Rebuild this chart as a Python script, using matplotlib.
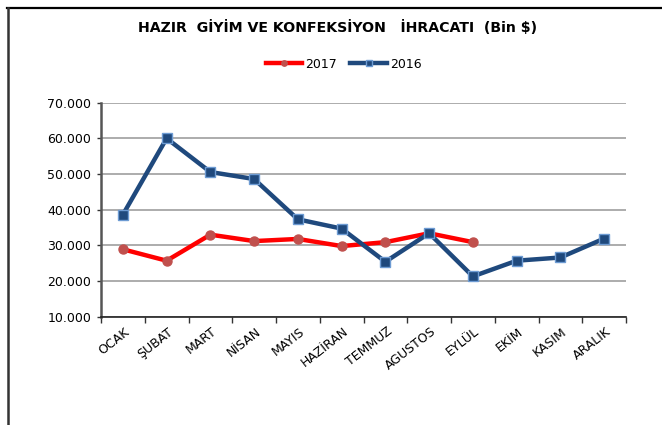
import matplotlib
matplotlib.use("Agg")
import matplotlib.pyplot as plt
from matplotlib.lines import Line2D
from matplotlib.ticker import FuncFormatter, FixedLocator
from matplotlib.transforms import ScaledTranslation

plt.rcParams['font.family'] = ['DejaVu Sans']

months = ["OCAK", "ŞUBAT", "MART", "NİSAN", "MAYIS", "HAZİRAN", "TEMMUZ",
          "AGUSTOS", "EYLÜL", "EKİM", "KASIM", "ARALIK"]
values_2017 = [28900, 25700, 33000, 31200, 31800, 29800, 30900, 33400, 30900]
values_2016 = [38600, 60000, 50560, 48600, 37300, 34700, 25400, 33400, 21300,
               25700, 26600, 31900]
title = "HAZIR  GİYİM VE KONFEKSİYON   İHRACATI  (Bin $)"

W, H = 662, 425
fig = plt.figure(figsize=(W / 100, H / 100), dpi=100)
fig.patch.set_facecolor("white")

# outer frame (top and left only visible)
fig.add_artist(Line2D([7 / W, 1.0], [1 - 7.5 / H, 1 - 7.5 / H], color="black", lw=1.6,
                      transform=fig.transFigure))
fig.add_artist(Line2D([7.5 / W, 7.5 / W], [0, 1 - 7.5 / H], color="#333333", lw=1.8,
                      transform=fig.transFigure))

ax = fig.add_axes([101 / W, 1 - 316.7 / H, (626 - 101) / W, (316.7 - 102.7) / H])

x16 = [i + 0.5 for i in range(len(values_2016))]
x17 = [i + 0.5 for i in range(len(values_2017))]

ax.plot(x17, values_2017, color="#FF0000", lw=3.2, marker="o", ms=6.5,
        mfc="#C0504D", mec="#C0504D", solid_joinstyle="round", label="2017", zorder=3)
ax.plot(x16, values_2016, color="#1F497D", lw=3.2, marker="s", ms=6.5,
        mfc="#1F497D", mec="#6D9BD3", mew=1.0, solid_joinstyle="round", label="2016", zorder=4)

ax.set_xlim(0, 12)
ax.set_ylim(10000, 70000)
ax.set_yticks(range(10000, 70001, 10000))
ax.yaxis.set_major_formatter(FuncFormatter(lambda v, p: f"{int(v):,}".replace(",", ".")))
ax.yaxis.grid(True, color="#A6A6A6", lw=1.3)
ax.set_axisbelow(True)

ax.xaxis.set_major_locator(FixedLocator(range(0, 13)))
ax.xaxis.set_minor_locator(FixedLocator(x16))
ax.set_xticklabels([])
ax.set_xticklabels(months, minor=True, rotation=38, ha="right", va="top",
                   rotation_mode="anchor", fontsize=9)
ax.tick_params(axis="x", which="minor", length=0, pad=6)
ax.tick_params(axis="x", which="major", length=4, width=1, direction="out", color="#333333")
ax.tick_params(axis="y", length=3, width=1, direction="out", color="#333333",
               labelsize=9, pad=4)
off = ScaledTranslation(1 / 100, 0, fig.dpi_scale_trans)
for lab in ax.get_xticklabels(minor=True):
    lab.set_transform(lab.get_transform() + off)

for s in ["top", "right"]:
    ax.spines[s].set_visible(False)
ax.spines["left"].set_color("#555555")
ax.spines["left"].set_linewidth(1.8)
ax.spines["bottom"].set_color("#222222")
ax.spines["bottom"].set_linewidth(1.2)

fig.text(337.5 / W, 1 - 27 / H, title, ha="center", va="center", fontsize=10.2,
         fontweight="bold")

leg = fig.legend(loc="center", bbox_to_anchor=(343.5 / W, 1 - 64 / H), ncol=2,
                 frameon=False, fontsize=9, handlelength=2.9, handletextpad=0.25,
                 columnspacing=1.1, markerscale=0.6)

fig.savefig("out.png", dpi=100, facecolor="white")
